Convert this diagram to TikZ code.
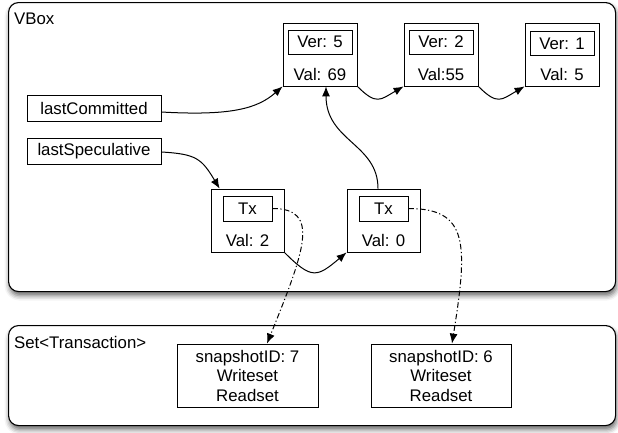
\documentclass[tikz,border=0pt]{standalone}
\usepackage{fontspec}
\setmainfont{Liberation Sans}
\usetikzlibrary{arrows.meta,shadows.blur}
\begin{document}
\begin{tikzpicture}[x=1pt,y=1pt,
  font=\fontsize{16.8}{19.5}\selectfont,
  bigbox/.style={draw, line width=1.1pt, rounded corners=10pt, fill=white, inner sep=0pt,
    blur shadow={shadow xshift=1pt, shadow yshift=-4pt, shadow blur radius=5pt, shadow opacity=60}},
  box/.style={draw, line width=0.8pt, fill=white, inner sep=0pt},
  txt/.style={inner sep=0pt},
  conn/.style={line width=1pt, -{Latex[length=10pt,width=8pt]}},
  dd/.style={conn, dash pattern=on 5.5pt off 2.5pt on 1.2pt off 2.5pt}
]
\useasboundingbox (0,0) rectangle (618,-432);

% containers
\node[bigbox, minimum width=607pt, minimum height=289pt, anchor=north west] (vbox) at (8,-2) {};
\node[txt, anchor=base west] (vboxlbl) at (14,-24) {VBox};
\node[bigbox, minimum width=607pt, minimum height=100pt, anchor=north west] (tset) at (8,-325) {};
\node[txt, anchor=base west] (tsetlbl) at (14,-348) {Set<Transaction>};

% versions
\node[box, minimum width=74pt, minimum height=63pt] (v5) at (320,-54.5) {};
\node[box, minimum width=64pt, minimum height=24pt] (v5ver) at (320,-42) {Ver: 5};
\node[txt] (v5val) at (320,-74) {Val: 69};

\node[box, minimum width=74pt, minimum height=63pt] (v2) at (441,-54.5) {};
\node[box, minimum width=64pt, minimum height=24pt] (v2ver) at (441,-42) {Ver: 2};
\node[txt] (v2val) at (441,-74) {Val:55};

\node[box, minimum width=74pt, minimum height=63pt] (v1) at (562,-54.5) {};
\node[box, minimum width=64pt, minimum height=24pt] (v1ver) at (562,-43.5) {Ver: 1};
\node[txt] (v1val) at (562,-74) {Val: 5};

% pointers
\node[box, minimum width=134pt, minimum height=26pt] (lc) at (94,-108) {lastCommitted};
\node[box, minimum width=134pt, minimum height=26pt] (ls) at (94,-151) {lastSpeculative};

% speculative values
\node[box, minimum width=73pt, minimum height=63pt] (tx1) at (247.5,-220.5) {};
\node[box, minimum width=49pt, minimum height=25pt] (tx1in) at (247.5,-208.5) {Tx};
\node[txt] (tx1val) at (247.5,-240.5) {Val: 2};

\node[box, minimum width=73pt, minimum height=63pt] (tx2) at (383.5,-220.5) {};
\node[box, minimum width=49pt, minimum height=25pt] (tx2in) at (383.5,-208.5) {Tx};
\node[txt] (tx2val) at (383.5,-240.5) {Val: 0};

% transactions
\node[box, minimum width=141pt, minimum height=63pt, align=center] (s1) at (247.5,-375.5) {snapshotID: 7\\Writeset\\Readset};
\node[box, minimum width=140pt, minimum height=63pt, align=center] (s2) at (441,-375.5) {snapshotID: 6\\Writeset\\Readset};

% connectors
\draw[conn] (v5.south east) to[out=-45,in=-150,looseness=1.5] (v2.south west);
\draw[conn] (v2.south east) to[out=-45,in=-150,looseness=1.5] (v1.south west);
\draw[conn] ([yshift=-4pt]lc.east) .. controls +(70,-4) and +(-25,-22) .. (v5.south west);
\draw[conn] ([yshift=-1pt]ls.east) .. controls +(35,-2) and +(-18,30) .. ([xshift=9pt]tx1.north west);
\draw[conn] ([xshift=-5.5pt]tx2.north) .. controls +(0,45) and +(0,-55) .. ([xshift=6pt]v5.south);
\draw[conn] (tx1.south east) to[out=-45,in=-140,looseness=1.6] (tx2.south west);
\draw[dd] (tx1in.east) .. controls +(48,0) and +(38,94) .. ([xshift=19.5pt]s1.north);
\draw[dd] (tx2in.east) .. controls +(60,0) and +(16,100) .. ([xshift=11pt]s2.north);
\end{tikzpicture}
\end{document}
